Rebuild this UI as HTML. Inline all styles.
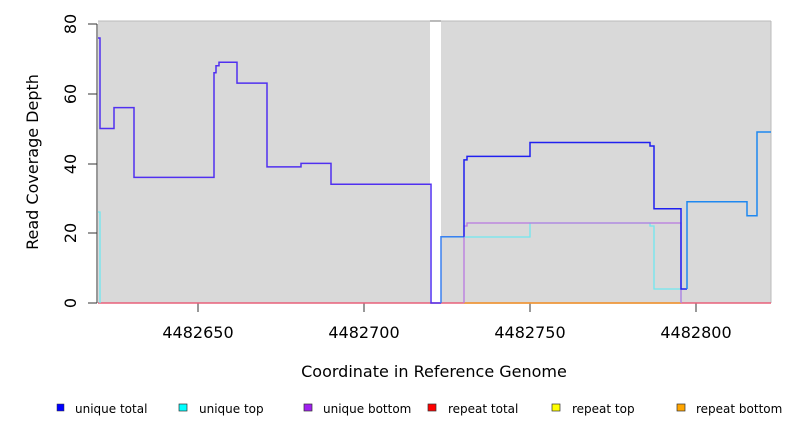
<!DOCTYPE html>
<html><head><style>body{margin:0;background:#fff}svg{display:block}text{font-family:"DejaVu Sans","Liberation Sans",sans-serif}</style></head>
<body>
<svg width="792" height="432" viewBox="0 0 792 432">
<rect x="98" y="21" width="332" height="282" fill="#d9d9d9"/>
<rect x="441" y="21" width="330" height="282" fill="#d9d9d9"/>
<line x1="98" y1="21" x2="771" y2="21" stroke="#bbb" stroke-width="1"/>
<line x1="430" y1="21" x2="441" y2="21" stroke="#777" stroke-width="1"/>
<line x1="771" y1="21" x2="771" y2="303" stroke="#bbb"/>
<!-- axes -->
<g stroke="#333" stroke-width="1" fill="none">
<line x1="97" y1="24" x2="97" y2="303"/>
<line x1="88" y1="24" x2="97" y2="24"/><line x1="88" y1="94" x2="97" y2="94"/><line x1="88" y1="164" x2="97" y2="164"/><line x1="88" y1="233" x2="97" y2="233"/><line x1="88" y1="303" x2="97" y2="303"/>
<line x1="198" y1="303" x2="198" y2="312"/><line x1="364" y1="303" x2="364" y2="312"/><line x1="530" y1="303" x2="530" y2="312"/><line x1="696" y1="303" x2="696" y2="312"/>
</g>
<g font-size="16" fill="#000" text-anchor="middle">
<text transform="translate(76,24) rotate(-90)">80</text>
<text transform="translate(76,94) rotate(-90)">60</text>
<text transform="translate(76,164) rotate(-90)">40</text>
<text transform="translate(76,233) rotate(-90)">20</text>
<text transform="translate(76,303) rotate(-90)">0</text>
<text x="198" y="338">4482650</text><text x="364" y="338">4482700</text><text x="530" y="338">4482750</text><text x="696" y="338">4482800</text>
<text x="434" y="377">Coordinate in Reference Genome</text>
<text transform="translate(38,162) rotate(-90)">Read Coverage Depth</text>
</g>
<!-- baselines -->
<line x1="98" y1="303" x2="771" y2="303" stroke="#e8607a" stroke-width="1.5"/>
<line x1="464" y1="303" x2="681" y2="303" stroke="#f0a030" stroke-width="1.5"/>
<!-- cyan -->
<polyline fill="none" stroke="#70e8f0" stroke-width="1.3" points="98,212 100,212 100,303"/>
<polyline fill="none" stroke="#70e8f0" stroke-width="1.3" points="441,237 530,237 530,223 650,223 650,226 654,226 654,289 681,289 681,303"/>
<!-- purple -->
<polyline fill="none" stroke="#b878e0" stroke-width="1.3" points="464,303 464,226 467,226 467,223 681,223 681,303"/>
<!-- main -->
<polyline fill="none" stroke="#5030f0" stroke-width="1.5" points="98,38 100,38 100,128.5 114,128.5 114,107.6 134,107.6 134,177.4 214,177.4 214,72.7 216,72.7 216,65.7 219,65.7 219,62.2 237,62.2 237,83.1 267,83.1 267,166.9 301,166.9 301,163.4 331,163.4 331,184.3 431,184.3 431,303 441,303"/>
<polyline fill="none" stroke="#3a80f0" stroke-width="1.5" points="441,303 441,236.7 464,236.7"/>
<polyline fill="none" stroke="#2020f0" stroke-width="1.5" points="464,236.7 464,159.9 467,159.9 467,156.4 530,156.4 530,142.5 650,142.5 650,146 654,146 654,208.8 681,208.8 681,289 687,289"/>
<polyline fill="none" stroke="#1e88f0" stroke-width="1.5" points="687,289 687,201.8 747,201.8 747,215.8 757,215.8 757,132 771,132"/>
<!-- legend -->
<g font-size="12" fill="#000">
<rect x="57" y="404" width="7" height="7" fill="#0000ff" stroke="#333" stroke-width="0.5"/><text x="75" y="413">unique total</text>
<rect x="179" y="404" width="8" height="7" fill="#00ffff" stroke="#333" stroke-width="0.7"/><text x="199" y="413">unique top</text>
<rect x="304" y="404" width="8" height="7" fill="#a020f0" stroke="#333" stroke-width="0.7"/><text x="323" y="413">unique bottom</text>
<rect x="428" y="404" width="8" height="7" fill="#ff0000" stroke="#333" stroke-width="0.7"/><text x="448" y="413">repeat total</text>
<rect x="552" y="404" width="8" height="7" fill="#ffff00" stroke="#333" stroke-width="0.7"/><text x="572" y="413">repeat top</text>
<rect x="677" y="404" width="8" height="7" fill="#ffa500" stroke="#333" stroke-width="0.7"/><text x="696" y="413">repeat bottom</text>
</g>
</svg>
</body></html>
